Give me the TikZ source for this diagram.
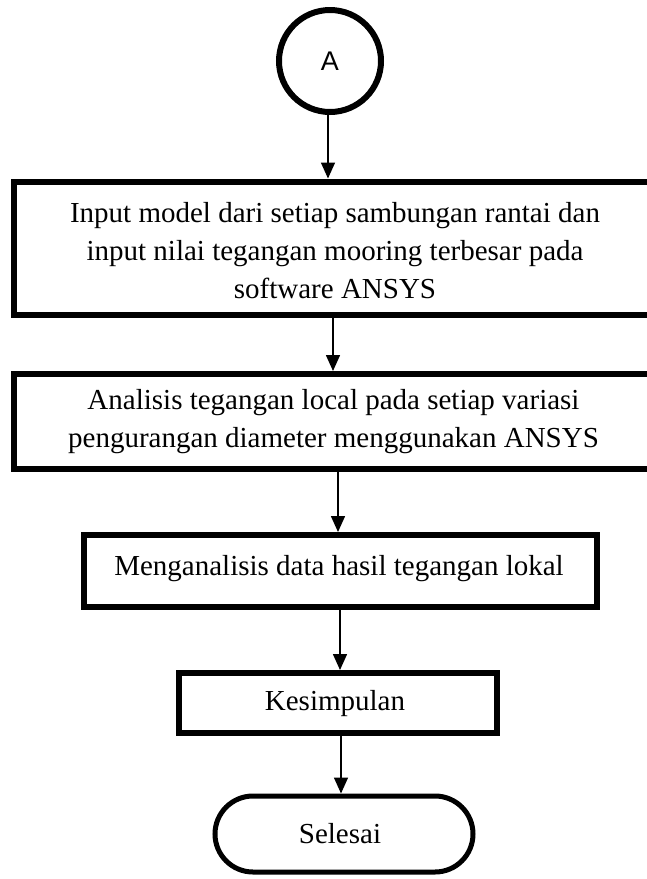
\documentclass[tikz,border=0pt]{standalone}
\usepackage{fontspec}
\setmainfont{Liberation Serif}
\newfontfamily\arialfont{Liberation Sans}
\usetikzlibrary{arrows.meta,shapes.misc}
\begin{document}
\begin{tikzpicture}[x=1pt,y=-1pt,
  boxstyle/.style={draw, line width=6pt, rectangle, inner sep=0pt},
  txt/.style={align=center, inner sep=0pt, font=\fontsize{29}{38}\selectfont},
  arr/.style={line width=1.5pt, -{Triangle[width=14pt,length=16pt]}}]
\useasboundingbox (0,0) rectangle (646,879);
\node[circle, draw, line width=6pt, minimum size=102pt, inner sep=0pt,
  font=\arialfont\fontsize{27}{30}\selectfont] (c) at (330,61) {A};
\node[boxstyle, minimum width=636pt, minimum height=133pt] (b1) at (332,248) {};
\node[txt] (t1) at (335,251) {Input model dari setiap sambungan rantai dan\\input nilai tegangan mooring terbesar pada\\software ANSYS};
\node[boxstyle, minimum width=636pt, minimum height=95pt] (b2) at (332,421.5) {};
\node[txt] (t2) at (333.5,422) {Analisis tegangan local pada setiap variasi\\pengurangan diameter menggunakan ANSYS};
\node[boxstyle, minimum width=513pt, minimum height=72pt] (b3) at (340,571) {};
\node[txt] (t3) at (339,569) {Menganalisis data hasil tegangan lokal};
\node[boxstyle, minimum width=318pt, minimum height=60pt] (b4) at (338,703) {};
\node[txt] (t4) at (335,704) {Kesimpulan};
\node[draw, line width=5pt, rounded rectangle, minimum width=258pt, minimum height=76pt, inner sep=0pt] (e) at (344,834) {};
\node[txt] (t5) at (340,834) {Selesai};
\draw[arr] (c.south -| 328,0) -- (b1.north -| 328,0);
\draw[arr] (b1.south -| 333,0) -- (b2.north -| 333,0);
\draw[arr] (b2.south -| 338,0) -- (b3.north -| 338,0);
\draw[arr] (b3.south -| 340,0) -- (b4.north -| 340,0);
\draw[arr] (b4.south -| 341,0) -- (e.north -| 341,0);
\end{tikzpicture}
\end{document}
